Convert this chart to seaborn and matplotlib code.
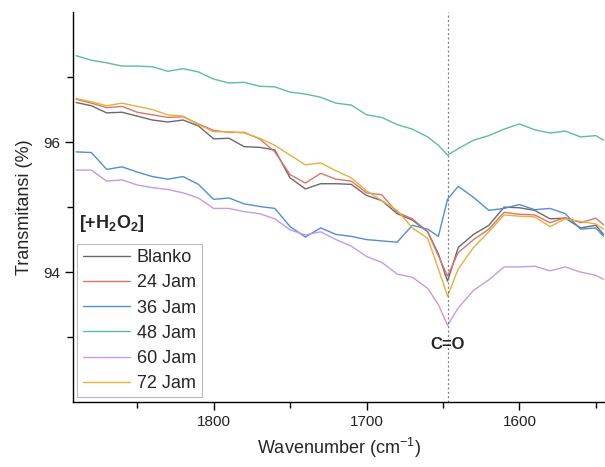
import numpy as np
import pandas as pd
import matplotlib
matplotlib.use("Agg")
import matplotlib.pyplot as plt
from matplotlib.ticker import MultipleLocator, FixedLocator
import seaborn as sns

# ==========================================
# Data
# ==========================================
wavenumber = [1890, 1880, 1870, 1860, 1850, 1840, 1830, 1820, 1810, 1800,
              1790, 1780, 1770, 1760, 1750, 1740, 1730, 1720, 1710, 1700,
              1690, 1680, 1670, 1660, 1653, 1647, 1640, 1630, 1620, 1610,
              1600, 1590, 1580, 1570, 1560, 1550, 1545]

blanko = [96.61, 96.56, 96.45, 96.46, 96.40, 96.34, 96.31, 96.34, 96.25, 96.05,
          96.06, 95.93, 95.92, 95.88, 95.45, 95.28, 95.36, 95.36, 95.35, 95.18,
          95.10, 94.90, 94.80, 94.62, 94.28, 93.86, 94.38, 94.58, 94.72, 95.00,
          94.99, 94.95, 94.82, 94.83, 94.68, 94.72, 94.58]

jam24 = [96.66, 96.60, 96.53, 96.55, 96.46, 96.42, 96.38, 96.39, 96.28, 96.18,
         96.15, 96.15, 96.05, 95.85, 95.50, 95.37, 95.52, 95.43, 95.40, 95.22,
         95.19, 94.92, 94.82, 94.62, 94.25, 93.94, 94.30, 94.50, 94.66, 94.92,
         94.89, 94.88, 94.76, 94.84, 94.76, 94.83, 94.73]

jam36 = [95.85, 95.84, 95.58, 95.62, 95.54, 95.47, 95.43, 95.47, 95.35, 95.12,
         95.14, 95.05, 95.01, 94.98, 94.70, 94.54, 94.68, 94.58, 94.55, 94.50,
         94.48, 94.46, 94.72, 94.66, 94.55, 95.12, 95.32, 95.15, 94.95, 94.98,
         95.04, 94.96, 94.98, 94.90, 94.66, 94.68, 94.55]

jam48 = [97.33, 97.26, 97.22, 97.17, 97.17, 97.16, 97.09, 97.13, 97.08, 96.97,
         96.91, 96.92, 96.86, 96.85, 96.77, 96.74, 96.69, 96.60, 96.57, 96.42,
         96.38, 96.27, 96.20, 96.08, 95.95, 95.80, 95.90, 96.03, 96.10, 96.20,
         96.28, 96.19, 96.14, 96.17, 96.08, 96.10, 96.03]

jam60 = [95.57, 95.57, 95.40, 95.42, 95.34, 95.30, 95.27, 95.22, 95.14, 94.98,
         94.98, 94.93, 94.90, 94.82, 94.65, 94.57, 94.62, 94.50, 94.40, 94.24,
         94.15, 93.97, 93.92, 93.75, 93.50, 93.18, 93.45, 93.72, 93.88, 94.08,
         94.08, 94.09, 94.02, 94.08, 94.00, 93.95, 93.89]

jam72 = [96.67, 96.62, 96.56, 96.60, 96.55, 96.50, 96.42, 96.40, 96.27, 96.16,
         96.16, 96.14, 96.06, 95.95, 95.80, 95.65, 95.68, 95.56, 95.45, 95.25,
         95.10, 94.95, 94.68, 94.52, 94.05, 93.63, 94.05, 94.38, 94.62, 94.88,
         94.86, 94.85, 94.70, 94.82, 94.78, 94.74, 94.66]

labels = ["Blanko", "24 Jam", "36 Jam", "48 Jam", "60 Jam", "72 Jam"]
colors = ["#6a6a6a", "#e0736b", "#4f8fd6", "#5cbf98", "#c59ae6", "#e6b03c"]
co_peak = 1647
y_major = [94, 96]
y_minor = [93, 95, 97]

# ==========================================
# Build long table
# ==========================================
series = [blanko, jam24, jam36, jam48, jam60, jam72]
frames = []
for lab, vals in zip(labels, series):
    frames.append(pd.DataFrame({"wn": wavenumber, "T": vals, "sample": lab}))
df = pd.concat(frames, ignore_index=True)

# ==========================================
# Plot
# ==========================================
sns.set_style("ticks")
plt.rcParams['font.family'] = ['Liberation Sans', 'DejaVu Sans']
plt.rcParams['mathtext.fontset'] = 'custom'
plt.rcParams['mathtext.rm'] = 'Liberation Sans'
plt.rcParams['mathtext.bf'] = 'Liberation Sans:bold'

fig = plt.figure(figsize=(6.05, 4.67), dpi=100)
ax = fig.add_axes([0.1207, 0.139, 0.8793, 0.835])

sns.lineplot(data=df, x="wn", y="T", hue="sample", hue_order=labels,
             palette=dict(zip(labels, colors)), linewidth=1.0, ax=ax,
             legend=False, sort=False)

ax.axvline(co_peak, color="#777777", linestyle=(0, (1.5, 2)), linewidth=0.9)
ax.text(co_peak, 92.89, "C=O", ha="center", va="center",
        fontsize=12, fontweight="bold")

ax.set_xlim(1892, 1544)
ax.set_ylim(92, 98)
ax.xaxis.set_major_locator(MultipleLocator(100))
ax.xaxis.set_minor_locator(MultipleLocator(50))
ax.yaxis.set_major_locator(FixedLocator(y_major))
ax.yaxis.set_minor_locator(FixedLocator(y_minor))
ax.tick_params(which="major", length=6, width=1, labelsize=11, color="black",
               labelcolor="#222222")
ax.tick_params(which="minor", length=4, width=1, color="black")

ax.set_xlabel("Wavenumber (cm$^{-1}$)", fontsize=13, labelpad=5)
ax.set_ylabel("Transmitansi (%)", fontsize=13, labelpad=7)

for s in ["top", "right"]:
    ax.spines[s].set_visible(False)
for s in ["left", "bottom"]:
    ax.spines[s].set_color("black")
    ax.spines[s].set_linewidth(1.0)

# legend with title outside the box
handles = [plt.Line2D([], [], color=c, linewidth=1.0) for c in colors]
leg = ax.legend(handles, labels, loc="lower left", bbox_to_anchor=(0.008, 0.012),
                fontsize=13, frameon=True, fancybox=False, edgecolor="#aaaaaa",
                handlelength=2.6, handletextpad=0.4, labelspacing=0.45,
                borderpad=0.3, borderaxespad=0.0)
leg.get_frame().set_linewidth(0.8)
ax.text(0.012, 0.43, r"[+H$_\mathbf{2}$O$_\mathbf{2}$]", transform=ax.transAxes,
        fontsize=13, fontweight="bold", ha="left", va="bottom")

fig.savefig("out.png", dpi=100)
